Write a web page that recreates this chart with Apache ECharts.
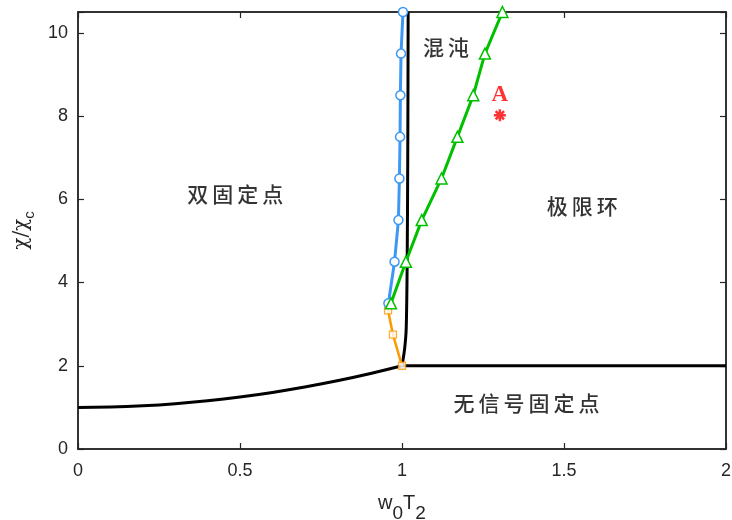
<!DOCTYPE html>
<html>
<head>
<meta charset="utf-8">
<script src="https://cdn.jsdelivr.net/npm/echarts@6/dist/echarts.min.js"></script>
<style>html,body{margin:0;padding:0;background:#fff}#c{width:732px;height:520px}</style>
</head>
<body>
<div id="c"></div>
<script>
// Boundary curve: double fixed point / no-signal fixed point
var curveBoundary = [[0,1.0],[0.1,1.01],[0.2,1.04],[0.3,1.09],[0.4,1.16],[0.5,1.25],[0.6,1.36],[0.7,1.49],[0.8,1.64],[0.9,1.81],[1.0,2.0]];
var horizBoundary = [[1.0,2.0],[2.0,2.0]];
var vertBoundary = [[1.0,2.0],[1.008,2.4],[1.013,2.9],[1.016,4.5],[1.018,7.5],[1.019,10.5]];
// Blue circles
var blueLine = [[0.958,3.5],[0.977,4.5],[0.989,5.5],[0.992,6.5],[0.994,7.5],[0.995,8.5],[0.997,9.5],[1.003,10.5]];
// Orange squares
var orangeLine = [[0.958,3.5],[0.957,3.33],[0.972,2.75],[1.0,2.0]];
var orangeMarkers = [[0.957,3.33],[0.972,2.75],[1.0,2.0]];
// Green triangles
var greenLine = [[0.966,3.5],[1.012,4.5],[1.061,5.5],[1.122,6.5],[1.171,7.5],[1.22,8.5],[1.256,9.5],[1.31,10.5]];
// Point A
var pointA = [[1.302,8.02]];
var labelA = [[1.302,8.5,'A']];
// Region labels
var regionLabels = [[0.485,6.12,'双固定点'],[1.556,5.83,'极限环'],[1.384,1.11,'无信号固定点'],[1.136,9.66,'混沌']];
var xTicks = [0,0.5,1,1.5,2];
var yTicks = [0,2,4,6,8,10];

var chart = echarts.init(document.getElementById('c'), null, {renderer:'canvas'});
var axisColor = '#262626';
function spaced(s){return s.split('').map(function(ch){return '{c|'+ch+'}';}).join('');}
var option = {
  animation:false,
  backgroundColor:'#fff',
  grid:{left:78,right:6,top:12,bottom:71,show:true,borderColor:axisColor,borderWidth:1.5,backgroundColor:'transparent',
        containLabel:false,outerBoundsMode:'none'},
  xAxis:[{
    type:'value',min:0,max:2,interval:0.5,
    axisLine:{show:true,onZero:false,lineStyle:{color:axisColor,width:1.5}},
    axisTick:{show:true,inside:true,length:6,lineStyle:{color:axisColor,width:1.2}},
    splitLine:{show:false},
    axisLabel:{color:axisColor,fontSize:18,fontFamily:'Liberation Sans, Arial',margin:13,
      formatter:function(v){return xTicks.indexOf(v)>=0?String(v):'';}},
    name:'{a|w}{s|0}{a|T}{s|2}',nameLocation:'middle',nameGap:44,
    nameTextStyle:{rich:{a:{fontSize:20,fontFamily:'Liberation Sans, Arial',color:axisColor,verticalAlign:'top',lineHeight:20},
                         s:{fontSize:19,fontFamily:'Liberation Sans, Arial',color:axisColor,verticalAlign:'top',lineHeight:20,padding:[11,0,0,0]}}}
  },{
    type:'value',min:0,max:2,interval:0.5,position:'top',
    axisLine:{show:true,onZero:false,lineStyle:{color:axisColor,width:1.5}},
    axisTick:{show:true,inside:true,length:6,lineStyle:{color:axisColor,width:1.2}},
    splitLine:{show:false},axisLabel:{show:false}
  }],
  yAxis:[{
    type:'value',min:0,max:10.5,interval:2,
    axisLine:{show:true,onZero:false,lineStyle:{color:axisColor,width:1.5}},
    axisTick:{show:true,inside:true,length:6,lineStyle:{color:axisColor,width:1.2}},
    splitLine:{show:false},
    axisLabel:{color:axisColor,fontSize:18,fontFamily:'Liberation Sans, Arial',margin:10,
      formatter:function(v){return yTicks.indexOf(v)>=0?String(v):'';}},
    name:'{a|χ/χ}{s|c}',nameLocation:'middle',nameGap:44,nameRotate:90,
    nameTextStyle:{rich:{a:{fontSize:20,fontFamily:'DejaVu Serif, Liberation Serif',color:axisColor,verticalAlign:'top',lineHeight:20},
                         s:{fontSize:15,fontFamily:'Liberation Sans, Arial',color:axisColor,verticalAlign:'top',lineHeight:16,padding:[10,0,0,0]}}}
  },{
    type:'value',min:0,max:10.5,interval:2,position:'right',
    axisLine:{show:true,onZero:false,lineStyle:{color:axisColor,width:1.5}},
    axisTick:{show:true,inside:true,length:6,lineStyle:{color:axisColor,width:1.2}},
    splitLine:{show:false},axisLabel:{show:false}
  }],
  series:[
    {type:'line',data:curveBoundary,smooth:true,showSymbol:false,lineStyle:{color:'#000',width:3},z:2},
    {type:'line',data:horizBoundary,showSymbol:false,lineStyle:{color:'#000',width:3},z:2},
    {type:'line',data:vertBoundary,smooth:0.3,showSymbol:false,lineStyle:{color:'#000',width:3},z:2},
    {type:'line',data:orangeLine,showSymbol:false,lineStyle:{color:'#ff9900',width:2.5},z:3},
    {type:'scatter',data:orangeMarkers,symbol:'rect',symbolSize:7,itemStyle:{color:'#fff',borderColor:'#ff9900',borderWidth:1.3},z:4},
    {type:'line',data:blueLine,symbol:'circle',symbolSize:9,showAllSymbol:true,lineStyle:{color:'#3d98f5',width:3},
      itemStyle:{color:'#fff',borderColor:'#3d98f5',borderWidth:1.5},z:5},
    {type:'line',data:greenLine,symbol:'triangle',symbolSize:11,showAllSymbol:true,lineStyle:{color:'#00c000',width:3},
      itemStyle:{color:'#fff',borderColor:'#00c000',borderWidth:1.5},z:6},
    {type:'scatter',data:pointA,symbol:'path://M0,-10 L0,10 M-10,0 L10,0 M-7,-7 L7,7 M-7,7 L7,-7',symbolSize:12,
      itemStyle:{color:'none',borderColor:'#ff0000',borderWidth:2.5},z:7},
    {type:'scatter',data:labelA,symbolSize:0,z:8,
      label:{show:true,position:'inside',formatter:function(p){return p.data[2];},color:'#ff0000',fontSize:23,fontWeight:'bold',fontFamily:'Liberation Serif, Times New Roman'}},
    {type:'scatter',data:regionLabels,symbolSize:0,z:8,
      label:{show:true,position:'inside',formatter:function(p){return spaced(p.data[2]);},
        rich:{c:{fontSize:21,color:'#000',fontWeight:500,fontFamily:'Noto Sans CJK SC',padding:[0,2]}}}}
  ]
};
chart.setOption(option);
</script>
</body>
</html>
